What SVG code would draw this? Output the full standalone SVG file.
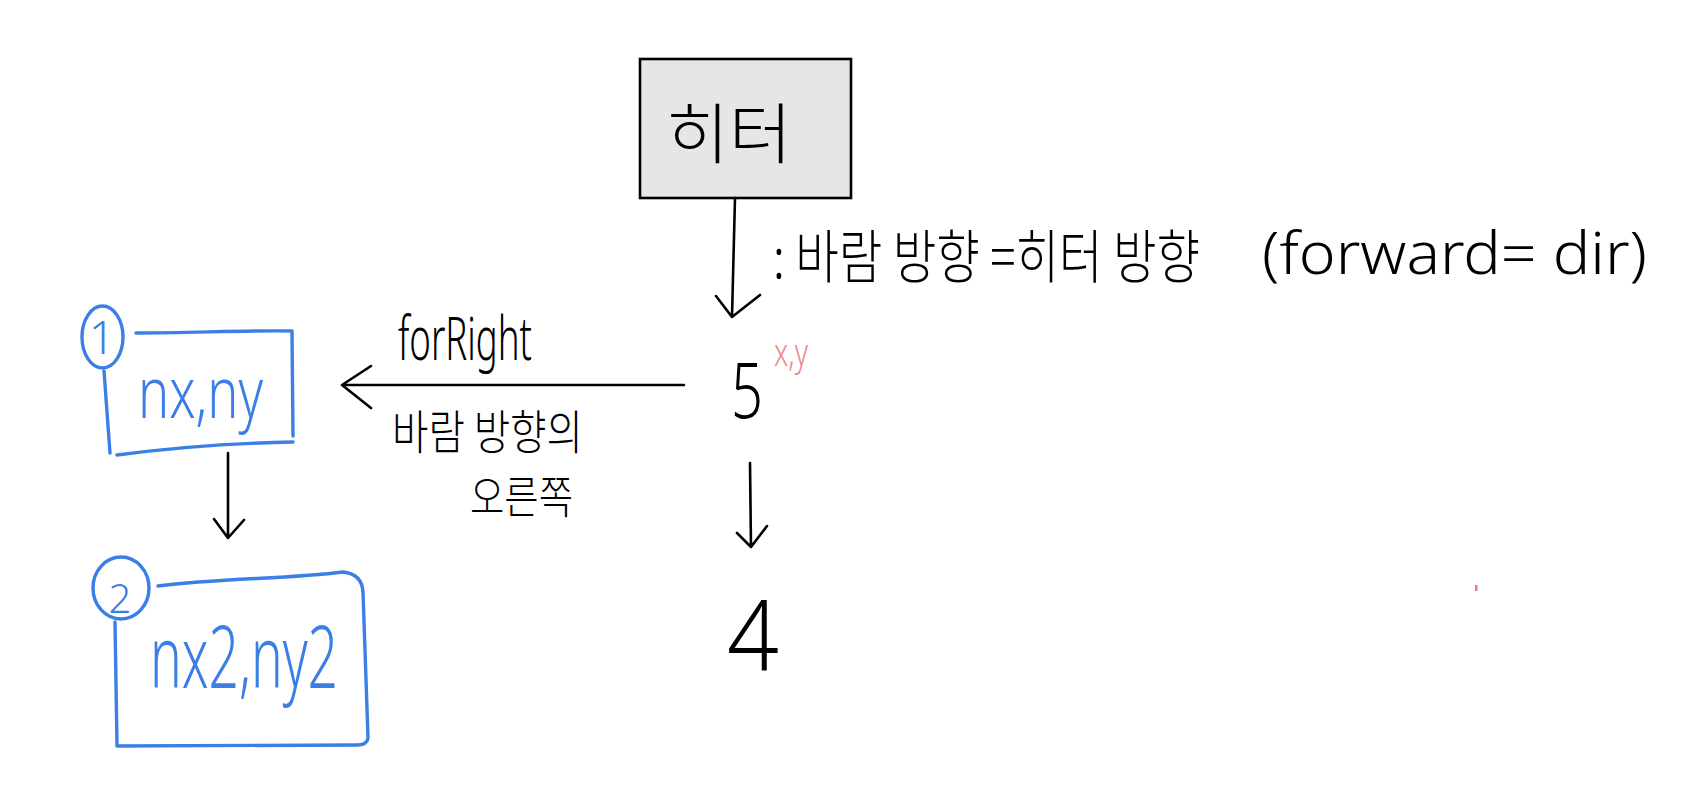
<svg xmlns="http://www.w3.org/2000/svg" width="1688" height="793" viewBox="0 0 1688 793">
<style>
.ink{fill:none;stroke:#000;stroke-width:2.6;stroke-linecap:round;stroke-linejoin:round}
.blue{fill:none;stroke:#3b7fe6;stroke-width:3.4;stroke-linecap:round;stroke-linejoin:round}
.kr{font-family:"Noto Sans CJK KR","Noto Sans",sans-serif;font-weight:300;fill:#000}
.lat{font-family:"Noto Sans","Liberation Sans",sans-serif;font-weight:300;fill:#000}
.bt{font-family:"Noto Sans","Liberation Sans",sans-serif;font-weight:300;fill:#3b7fe6}
.pink{font-family:"Noto Sans","Liberation Sans",sans-serif;font-weight:300;fill:#f08a8a}
</style>
<rect width="1688" height="793" fill="#fff"/>
<g id="heater">
<rect x="640" y="59" width="211" height="139" fill="#e6e6e6" stroke="#000" stroke-width="2.6"/>
<text class="kr" x="666" y="158" font-size="66" textLength="126" lengthAdjust="spacingAndGlyphs">히터</text>
</g>
<g id="heater-note">
<text class="kr" x="773" y="278" font-size="58" textLength="427" lengthAdjust="spacingAndGlyphs">: 바람 방향 =히터 방향</text>
<text class="lat" x="1262" y="274" font-size="58" textLength="385" lengthAdjust="spacingAndGlyphs">(forward= dir)</text>
</g>
<g id="node-5">
<text class="lat" x="731" y="418" font-size="60" textLength="32" lengthAdjust="spacingAndGlyphs" transform="translate(731 418) scale(1 1.3) translate(-731 -418)">5</text>
<text class="pink" x="774" y="366" font-size="38" textLength="34" lengthAdjust="spacingAndGlyphs">x,y</text>
</g>
<g id="node-4">
<text class="lat" x="727" y="670" font-size="98" textLength="52" lengthAdjust="spacingAndGlyphs">4</text>
</g>
<g id="node-1">
<ellipse class="blue" cx="102.5" cy="337" rx="20.5" ry="31"/>
<text class="bt" x="102" y="354" font-size="46" text-anchor="middle">1</text>
<path class="blue" d="M136,333 C190,333 250,330 292,331 M292,331 L293,436 M117,455 C170,448 240,443 293,442 M104,371 L110,453"/>
<text class="bt" x="138" y="418" font-size="72" textLength="125" lengthAdjust="spacingAndGlyphs">nx,ny</text>
</g>
<g id="node-2">
<ellipse class="blue" cx="121" cy="588" rx="28" ry="31"/>
<text class="bt" x="120" y="613" font-size="40" text-anchor="middle">2</text>
<path class="blue" d="M158,586 C220,578 290,579 343,572 Q362,574 363,592 L368,738 Q367,745 357,745 L117,746 L115,622"/>
<text class="bt" x="150" y="688" font-size="86" textLength="188" lengthAdjust="spacingAndGlyphs">nx2,ny2</text>
</g>
<g id="labels">
<text class="lat" x="398" y="360" font-size="60" textLength="134" lengthAdjust="spacingAndGlyphs">forRight</text>
<text class="kr" x="392" y="449" font-size="47" textLength="191" lengthAdjust="spacingAndGlyphs">바람 방향의</text>
<text class="kr" x="470" y="514" font-size="45" textLength="103" lengthAdjust="spacingAndGlyphs">오른쪽</text>
</g>
<g id="connectors">
<path class="ink" d="M735,198 L732,317 M716,296 L732,317 L760,295"/>
<path class="ink" d="M684,385 L342,385 M371,366 L342,385 L371,408"/>
<path class="ink" d="M750,463 L751,547 M737,533 L751,547 L767,526"/>
<path class="ink" d="M228,453 L228,538 M214,519 L228,538 L244,520"/>
</g>
<rect x="1475" y="585" width="2.5" height="6" fill="#f07878"/>
</svg>
